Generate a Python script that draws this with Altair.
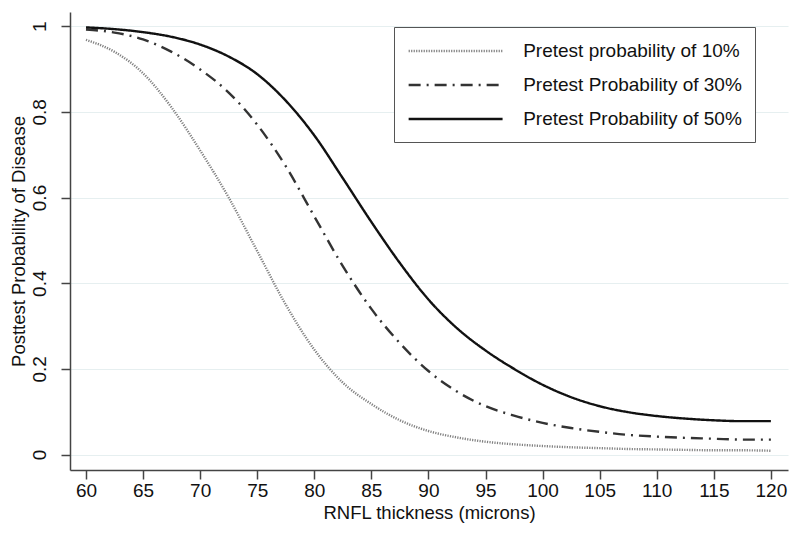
import altair as alt
import pandas as pd

thickness = [60, 62.5, 65, 67.5, 70, 72.5, 75, 77.5, 80, 82.5, 85, 87.5, 90,
             92.5, 95, 97.5, 100, 102.5, 105, 107.5, 110, 112.5, 115, 117.5, 120]

pre10 = [0.968, 0.940, 0.890, 0.810, 0.710, 0.600, 0.475, 0.350, 0.245, 0.168,
         0.118, 0.080, 0.055, 0.040, 0.030, 0.024, 0.020, 0.017, 0.015, 0.013,
         0.012, 0.011, 0.010, 0.010, 0.009]
pre30 = [0.992, 0.985, 0.969, 0.940, 0.899, 0.845, 0.770, 0.673, 0.556, 0.440,
         0.340, 0.260, 0.195, 0.147, 0.113, 0.091, 0.074, 0.062, 0.053, 0.046,
         0.042, 0.039, 0.037, 0.035, 0.035]
pre50 = [0.997, 0.993, 0.986, 0.975, 0.957, 0.929, 0.888, 0.826, 0.745, 0.645,
         0.543, 0.447, 0.362, 0.295, 0.243, 0.200, 0.163, 0.134, 0.113, 0.099,
         0.090, 0.084, 0.080, 0.078, 0.078]

series_names = ["Pretest probability of 10%", "Pretest Probability of 30%",
                "Pretest Probability of 50%"]
y_ticks = [0, 0.2, 0.4, 0.6, 0.8, 1]
x_ticks = list(range(60, 121, 5))

rows = []
for name, vals in zip(series_names, [pre10, pre30, pre50]):
    for x, v in zip(thickness, vals):
        rows.append({"RNFL": x, "prob": v, "series": name})
df = pd.DataFrame(rows)

FONT = "Liberation Sans"

legend = alt.Legend(
    title=None, orient="none", legendX=324, legendY=15,
    symbolType="M-5,0L5,0", symbolSize=353, symbolStrokeWidth=2.3,
    symbolOffset=37.6,
    labelFont=FONT, labelFontSize=19, labelColor="#111", labelOffset=56.6,
    padding=13, rowPadding=13, strokeColor="#555", fillColor="white",
    labelLimit=400,
)

chart = alt.Chart(df).mark_line(strokeWidth=2.4, interpolate="monotone").encode(
    x=alt.X("RNFL:Q",
            scale=alt.Scale(domain=[58.6, 121.5], nice=False, zero=False),
            axis=alt.Axis(values=x_ticks, title="RNFL thickness (microns)",
                          grid=False, tickSize=9, labelPadding=2,
                          titlePadding=3)),
    y=alt.Y("prob:Q",
            scale=alt.Scale(domain=[-0.036, 1.033], nice=False, zero=False),
            axis=alt.Axis(values=y_ticks, format="~g",
                          title="Posttest Probability of Disease",
                          grid=True, gridColor="#e6eff0", gridWidth=1.2,
                          tickSize=9, labelAngle=270, labelAlign="center",
                          labelBaseline="bottom", labelPadding=12,
                          titlePadding=2)),
    color=alt.Color("series:N",
                    scale=alt.Scale(domain=series_names,
                                    range=["#808080", "#333333", "#111111"]),
                    legend=legend),
    strokeDash=alt.StrokeDash("series:N",
                              scale=alt.Scale(domain=series_names,
                                              range=[[1.2, 1.3], [12, 6, 2, 6], [1, 0]]),
                              legend=legend),
).properties(
    width=718, height=458,
    background="white",
    autosize=alt.AutoSizeParams(type="none"),
    padding={"left": 62, "top": 4, "right": 4, "bottom": 55},
).configure_view(stroke=None).configure_axis(
    domainColor="#444", domainWidth=1.5, tickColor="#444", tickWidth=1.5,
    labelFont=FONT, labelFontSize=19, labelColor="#111",
    titleFont=FONT, titleFontSize=18.5, titleColor="#111", titleFontWeight="normal",
)

chart.save("out.html", embed_options={"renderer": "svg", "actions": False})
